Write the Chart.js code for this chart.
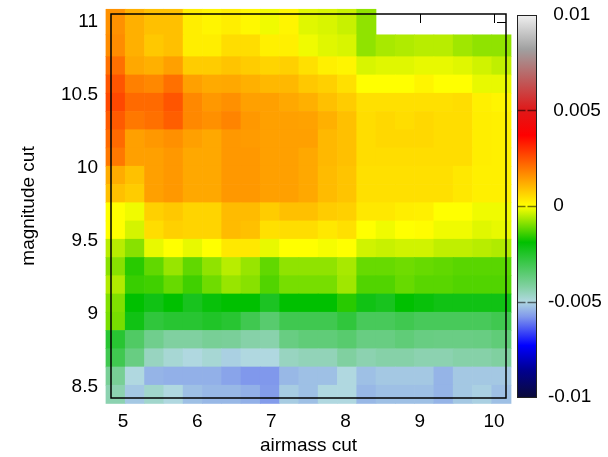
<!DOCTYPE html>
<html>
<head>
<meta charset="utf-8">
<script src="https://cdn.jsdelivr.net/npm/chart.js@4.4.1/dist/chart.umd.min.js"></script>
<style>
  html, body { margin: 0; padding: 0; background: #fff; }
</style>
</head>
<body>
<canvas id="heatChart" width="608" height="457"></canvas>
<script>
// cell centres
const airmassCuts = [4.90, 5.16, 5.42, 5.68, 5.94, 6.20, 6.46, 6.72, 6.98, 7.24, 7.50,
                     7.76, 8.02, 8.28, 8.54, 8.80, 9.06, 9.32, 9.58, 9.84, 10.10];
const magnitudeCuts = [8.45, 8.575, 8.70, 8.825, 8.95, 9.075, 9.20, 9.325, 9.45, 9.575, 9.70,
                       9.825, 9.95, 10.075, 10.20, 10.325, 10.45, 10.575, 10.70, 10.825, 11.0];

// one row per magnitude cut (bottom to top), one value per airmass cut
const offsets = [
  [-0.0044, -0.0052, -0.00475, -0.005, -0.0053, -0.0054, -0.0054, -0.0055, -0.00575, -0.00515, -0.0053, -0.005, -0.005, -0.0054, -0.0053, -0.0053, -0.0053, -0.00545, -0.0052, -0.0051, -0.0053],
  [-0.00406, -0.005, -0.00545, -0.0055, -0.0055, -0.0055, -0.00565, -0.0058, -0.0058, -0.0054, -0.0053, -0.0053, -0.005, -0.0053, -0.0052, -0.0052, -0.0052, -0.00545, -0.0052, -0.0052, -0.0052],
  [-0.00305, -0.00377, -0.0046, -0.00485, -0.005, -0.00485, -0.0051, -0.005, -0.005, -0.0046, -0.0045, -0.0045, -0.0042, -0.0044, -0.0043, -0.0043, -0.0044, -0.0044, -0.0043, -0.0043, -0.0042],
  [-0.00262, -0.00334, -0.00392, -0.0042, -0.0042, -0.00406, -0.0041, -0.0043, -0.00435, -0.00377, -0.00363, -0.00363, -0.00348, -0.00377, -0.00377, -0.00363, -0.00377, -0.0038, -0.0038, -0.00377, -0.00363],
  [-0.00101, -0.00219, -0.00276, -0.00262, -0.00262, -0.00248, -0.00262, -0.00305, -0.00348, -0.00305, -0.00305, -0.00305, -0.00276, -0.00319, -0.00319, -0.00305, -0.00319, -0.00319, -0.00319, -0.00319, -0.00305],
  [-0.00095, -0.0019, -0.00219, -0.0019, -0.00233, -0.00204, -0.0019, -0.0019, -0.0024, -0.0019, -0.0019, -0.0019, -0.0016, -0.00219, -0.00233, -0.0019, -0.00204, -0.00219, -0.00219, -0.00219, -0.00219],
  [-0.00059, -0.00148, -0.00142, -0.00113, -0.00142, -0.00107, -0.00077, -0.00089, -0.0013, -0.00101, -0.00101, -0.00101, -0.00071, -0.0013, -0.0013, -0.00113, -0.00124, -0.00124, -0.0013, -0.0013, -0.0013],
  [-0.00089, -0.0016, -0.00118, -0.00077, -0.00118, -0.00083, -0.00053, -0.00077, -0.00118, -0.00083, -0.00083, -0.00083, -0.00065, -0.00113, -0.00113, -0.00107, -0.00113, -0.00118, -0.00124, -0.00124, -0.00124],
  [-0.00053, -0.00089, -0.00017, 0, -0.00017, 0, 0.00033, 0.00033, -0.00017, 0, 0, -0.00007, 0, -0.00035, -0.00041, -0.00035, -0.00035, -0.00047, -0.00047, -0.00053, -0.00059],
  [0, -0.00032, 0.00049, 0.00068, 0.00062, 0.00062, 0.00099, 0.00091, 0.00045, 0.00049, 0.00049, 0.00033, 0.00045, 0, -0.00011, 0, 0.00005, -0.00011, -0.00011, -0.00023, -0.00017],
  [0, -0.00011, 0.00068, 0.0008, 0.00062, 0.00062, 0.00099, 0.00099, 0.00074, 0.00091, 0.00091, 0.00074, 0.00068, 0.00033, 0.00033, 0.00025, 0.00022, 0, 0, -0.00011, -0.00011],
  [0.00091, 0.00074, 0.00138, 0.00149, 0.00126, 0.00126, 0.00149, 0.00149, 0.00138, 0.00138, 0.00126, 0.00099, 0.00086, 0.00045, 0.00045, 0.00045, 0.00045, 0.00045, 0.00033, 0.00022, 0.00022],
  [0.0012, 0.0009, 0.00138, 0.00149, 0.00126, 0.00126, 0.00149, 0.00149, 0.00138, 0.00138, 0.00126, 0.00099, 0.00086, 0.00045, 0.00045, 0.00045, 0.00045, 0.00045, 0.00033, 0.00022, 0.00022],
  [0.00196, 0.00138, 0.00138, 0.00149, 0.00126, 0.00126, 0.00149, 0.00149, 0.00138, 0.00138, 0.00126, 0.00103, 0.00091, 0.00049, 0.00049, 0.00049, 0.00049, 0.00049, 0.00049, 0.00025, 0.00022],
  [0.00216, 0.00138, 0.00149, 0.00161, 0.00138, 0.00126, 0.00149, 0.00145, 0.00138, 0.00138, 0.00138, 0.00103, 0.00091, 0.00049, 0.00057, 0.00057, 0.00057, 0.00049, 0.00049, 0.00025, 0.00022],
  [0.00239, 0.00196, 0.00208, 0.00233, 0.00173, 0.00161, 0.00178, 0.00149, 0.00138, 0.00138, 0.00135, 0.00115, 0.00091, 0.00049, 0.00057, 0.00049, 0.00057, 0.00049, 0.00049, 0.00025, 0.00022],
  [0.00266, 0.00216, 0.00216, 0.00247, 0.00173, 0.00149, 0.00161, 0.00138, 0.00138, 0.00126, 0.00115, 0.00091, 0.00074, 0.00045, 0.00045, 0.00045, 0.00045, 0.00045, 0.00049, 0.00022, 0.00015],
  [0.00247, 0.00184, 0.00173, 0.00208, 0.00138, 0.00124, 0.00126, 0.00115, 0.00103, 0.00103, 0.0008, 0.00068, 0.00045, 0, 0, 0, 0.00015, 0, 0, -0.00017, -0.00017],
  [0.00208, 0.00126, 0.00115, 0.00138, 0.00074, 0.00074, 0.00086, 0.00074, 0.00062, 0.00068, 0.00045, 0.00022, 0.00015, -0.00029, -0.00023, -0.00023, -0.00017, -0.00017, -0.00023, -0.00035, -0.00047],
  [0.00167, 0.00115, 0.0008, 0.00091, 0.00025, 0.00025, 0.00049, 0.00049, 0.00022, 0.00022, -0.00011, -0.00023, -0.00029, -0.00083, -0.00065, -0.00059, -0.00053, -0.00053, -0.00071, -0.00083, -0.00083],
  [0.0016, 0.00115, 0.00091, 0.00091, 0.00025, 0.00015, 0.00025, 0.0001, -0.00011, 0.00015, -0.00023, -0.00029, -0.00041, -0.00083, null, null, null, null, null, null, null]
];

const xTicks = [5, 6, 7, 8, 9, 10];
const yTicks = [8.5, 9, 9.5, 10, 10.5, 11];
const cbTicks = [-0.01, -0.005, 0, 0.005, 0.01];

// colour palette of the colour box
const paletteStops = [
  [-0.01, '#0a0a3a'], [-0.0086, '#000090'], [-0.0073, '#0000ff'], [-0.0058, '#8098ec'],
  [-0.005, '#b0d8e0'], [-0.0042, '#80d0a0'], [-0.0019, '#00c000'], [0, '#ffff00'],
  [0.0037, '#ff0000'], [0.005, '#e01818'], [0.0065, '#c05858'], [0.0082, '#a0a0a0'], [0.01, '#f0f0f0']
];

function hexRgb(h) {
  return [parseInt(h.slice(1, 3), 16), parseInt(h.slice(3, 5), 16), parseInt(h.slice(5, 7), 16)];
}

function colorFor(v) {
  if (v <= paletteStops[0][0]) return paletteStops[0][1];
  for (let k = 1; k < paletteStops.length; k++) {
    const [v1, c1] = paletteStops[k];
    if (v <= v1) {
      const [v0, c0] = paletteStops[k - 1];
      const t = (v - v0) / (v1 - v0);
      const a = hexRgb(c0), b = hexRgb(c1);
      const m = a.map((ch, n) => Math.round(ch + (b[n] - ch) * t));
      return 'rgb(' + m.join(',') + ')';
    }
  }
  return paletteStops[paletteStops.length - 1][1];
}

// lower / upper edge of every row, halfway to the neighbours
const rowEdges = magnitudeCuts.map((m, j) => {
  const n = magnitudeCuts.length;
  const lo = j > 0 ? (m + magnitudeCuts[j - 1]) / 2 : m - (magnitudeCuts[1] - m) / 2;
  const hi = j < n - 1 ? (m + magnitudeCuts[j + 1]) / 2 : m + (m - magnitudeCuts[j - 1]) / 2;
  return [lo, hi];
});

const datasets = offsets.map((row, j) => {
  const pts = [];
  const cols = [];
  row.forEach((v, i) => {
    if (v === null) return;
    pts.push({ x: airmassCuts[i], y: [rowEdges[j][0], rowEdges[j][1]] });
    cols.push(colorFor(v));
  });
  return {
    data: pts,
    backgroundColor: cols,
    borderWidth: 0,
    grouped: false,
    clip: false,
    barPercentage: 1,
    categoryPercentage: 1
  };
});

const font = { family: "'Liberation Sans', Arial, sans-serif", size: 19 };
Chart.defaults.color = '#000';
Chart.defaults.font = font;

const frame = {
  id: 'frame',
  beforeDatasetsDraw(chart) {
    // inward ticks, the heat map covers them where it has data
    const { ctx, chartArea: a, scales: { x, y } } = chart;
    ctx.save();
    ctx.strokeStyle = '#000';
    ctx.lineWidth = 1;
    ctx.beginPath();
    xTicks.forEach(v => {
      const px = Math.round(x.getPixelForValue(v)) + 0.5;
      ctx.moveTo(px, a.top); ctx.lineTo(px, a.top + 9);
      ctx.moveTo(px, a.bottom); ctx.lineTo(px, a.bottom - 9);
    });
    yTicks.forEach(v => {
      const py = Math.round(y.getPixelForValue(v)) + 0.5;
      ctx.moveTo(a.left, py); ctx.lineTo(a.left + 9, py);
      ctx.moveTo(a.right, py); ctx.lineTo(a.right - 9, py);
    });
    ctx.stroke();
    ctx.restore();
  },
  afterDatasetsDraw(chart) {
    const { ctx, chartArea: a, scales: { cb } } = chart;
    ctx.save();
    ctx.strokeStyle = '#000';
    ctx.lineWidth = 1.5;
    ctx.strokeRect(a.left, a.top, a.right - a.left, a.bottom - a.top);

    // colour box
    const x0 = cb.left + 11, x1 = cb.left + 30;
    const yTop = cb.getPixelForValue(0.01), yBot = cb.getPixelForValue(-0.01);
    const g = ctx.createLinearGradient(0, yBot, 0, yTop);
    paletteStops.forEach(([v, c]) => g.addColorStop((v + 0.01) / 0.02, c));
    ctx.fillStyle = g;
    ctx.fillRect(x0, yTop, x1 - x0, yBot - yTop);
    ctx.strokeStyle = 'rgba(0,0,0,0.55)';
    ctx.lineWidth = 1.5;
    ctx.beginPath();
    cbTicks.slice(1, -1).forEach(v => {
      const py = Math.round(cb.getPixelForValue(v)) + 0.5;
      ctx.moveTo(x0, py); ctx.lineTo(x0 + 8.5, py);
      ctx.moveTo(x1, py); ctx.lineTo(x1 - 8.5, py);
    });
    ctx.stroke();
    ctx.strokeStyle = '#222';
    ctx.lineWidth = 1;
    ctx.strokeRect(Math.round(x0) + 0.5, Math.round(yTop) + 0.5, Math.round(x1 - x0), Math.round(yBot - yTop));
    ctx.restore();
  }
};

new Chart(document.getElementById('heatChart'), {
  type: 'bar',
  data: { datasets: datasets },
  options: {
    responsive: false,
    animation: false,
    events: [],
    layout: { autoPadding: false, padding: { top: 14, left: 0, right: 0, bottom: 0 } },
    plugins: {
      legend: { display: false },
      tooltip: { enabled: false }
    },
    scales: {
      x: {
        type: 'linear',
        offset: false,
        min: 4.838,
        max: 10.162,
        grid: { display: false, drawTicks: false },
        border: { display: false },
        ticks: { padding: 12, callback: v => String(v) },
        afterBuildTicks: s => { s.ticks = xTicks.map(v => ({ value: v })); },
        afterFit: s => { s.height = 59; },
        title: { display: true, text: 'airmass cut', padding: { top: 0, bottom: 0 } }
      },
      y: {
        type: 'linear',
        position: 'left',
        min: 8.425,
        max: 11.055,
        grid: { display: false, drawTicks: true, tickLength: 12 },
        border: { display: false },
        ticks: { padding: 1, callback: v => String(v) },
        afterBuildTicks: s => { s.ticks = yTicks.map(v => ({ value: v })); },
        afterFit: s => { s.width = 111; },
        title: { display: true, text: 'magnitude cut', padding: { top: 17, bottom: 0 } }
      },
      cb: {
        type: 'linear',
        position: 'right',
        min: -0.01005,
        max: 0.01005,
        grid: { display: false, drawTicks: true, tickLength: 40 },
        border: { display: false },
        ticks: { padding: 2, callback: v => (v >= 0 ? ' ' : '') + v },
        afterBuildTicks: s => { s.ticks = cbTicks.map(v => ({ value: v })); },
        afterFit: s => { s.width = 102; }
      }
    }
  },
  plugins: [frame]
});
</script>
</body>
</html>
